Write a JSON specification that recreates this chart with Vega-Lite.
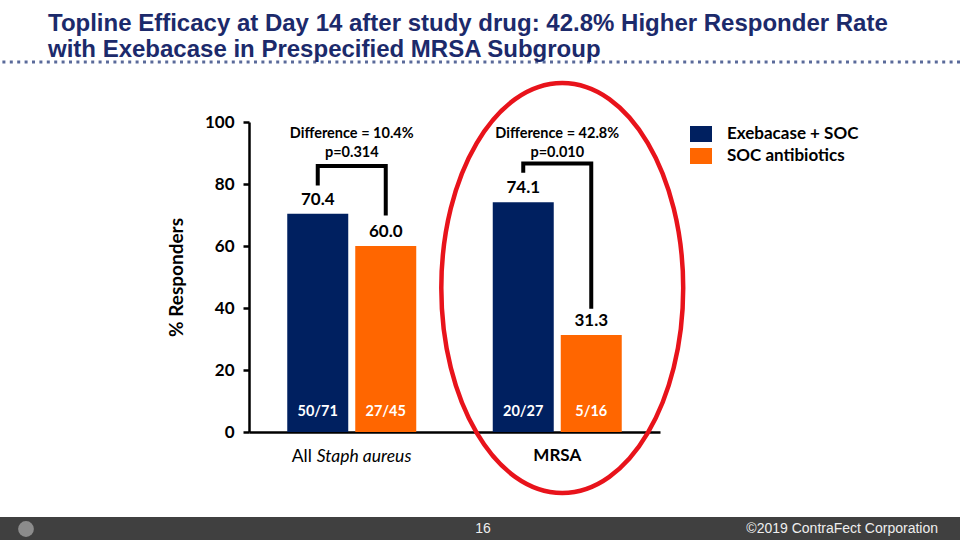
{
  "$schema": "https://vega.github.io/schema/vega-lite/v6.json",
  "width": 960,
  "height": 540,
  "autosize": {"type": "none"},
  "padding": 0,
  "background": "white",
  "config": {
    "view": {"stroke": null},
    "font": "Lato",
    "axisX": {"offset": -108, "domainColor": "black", "domainWidth": 2.5, "ticks": false, "labels": false, "grid": false},
    "axisY": {"offset": -249, "domainColor": "black", "domainWidth": 2.5, "tickColor": "black", "tickWidth": 2.5, "tickSize": 6, "tickCount": 6, "labelFont": "Lato", "labelFontWeight": "bold", "labelFontSize": 17, "labelColor": "black", "labelPadding": 9, "grid": false, "titleFont": "Lato", "titleFontWeight": "bold", "titleFontSize": 19, "titleColor": "black", "titlePadding": 18}
  },
  "title": {
    "text": ["Topline Efficacy at Day 14 after study drug: 42.8% Higher Responder Rate", "with Exebacase in Prespecified MRSA Subgroup"],
    "anchor": "start",
    "frame": "group",
    "orient": "top",
    "baseline": "top",
    "font": "Liberation Sans Narrow, Liberation Sans, Arial",
    "fontSize": 24,
    "fontWeight": "bold",
    "color": "#1c2a6b",
    "lineHeight": 26,
    "dx": 48,
    "offset": -62
  },
  "datasets": {
    "bars": [
      {"group": "All Staph aureus", "series": "Exebacase + SOC", "value": 70.4, "n": "50/71"},
      {"group": "All Staph aureus", "series": "SOC antibiotics", "value": 60.0, "n": "27/45"},
      {"group": "MRSA", "series": "Exebacase + SOC", "value": 74.1, "n": "20/27"},
      {"group": "MRSA", "series": "SOC antibiotics", "value": 31.3, "n": "5/16"}
    ],
    "brackets": [
      {"group": "All Staph aureus", "series": "Exebacase + SOC", "y": 80.2, "ord": 1},
      {"group": "All Staph aureus", "series": "Exebacase + SOC", "y": 85.8, "ord": 2},
      {"group": "All Staph aureus", "series": "SOC antibiotics", "y": 85.8, "ord": 3},
      {"group": "All Staph aureus", "series": "SOC antibiotics", "y": 70.5, "ord": 4},
      {"group": "MRSA", "series": "Exebacase + SOC", "y": 84.3, "ord": 1},
      {"group": "MRSA", "series": "Exebacase + SOC", "y": 86.6, "ord": 2},
      {"group": "MRSA", "series": "SOC antibiotics", "y": 86.6, "ord": 3},
      {"group": "MRSA", "series": "SOC antibiotics", "y": 40.4, "ord": 4}
    ],
    "diffs": [
      {"group": "All Staph aureus", "diff": "Difference = 10.4%", "p": "p=0.314"},
      {"group": "MRSA", "diff": "Difference = 42.8%", "p": "p=0.010"}
    ],
    "cats": [
      {"group": "All Staph aureus", "a": "All", "b": "Staph aureus", "m": ""},
      {"group": "MRSA", "a": "", "b": "", "m": "MRSA"}
    ],
    "highlight": [{"group": "MRSA"}],
    "footer": [{"page": "16", "copy": "©2019 ContraFect Corporation"}]
  },
  "layer": [
    {
      "data": {"name": "footer"},
      "mark": {"type": "rect", "color": "#404040"},
      "encoding": {
        "y": {"datum": -27.4, "type": "quantitative", "title": "% Responders", "scale": {"domain": [0, 100], "range": [432, 122], "nice": false}},
        "y2": {"datum": -36}
      }
    },
    {
      "data": {"name": "footer"},
      "mark": {"type": "point", "shape": "circle", "filled": true, "color": "#8c8c8c", "opacity": 1, "size": 250, "xOffset": -454},
      "encoding": {
        "y": {"datum": -31.3, "type": "quantitative", "title": "% Responders", "scale": {"domain": [0, 100], "range": [432, 122], "nice": false}}
      }
    },
    {
      "data": {"name": "footer"},
      "mark": {"type": "text", "font": "Liberation Sans Narrow, Liberation Sans, Arial", "fontSize": 14, "color": "#eeeeee", "baseline": "middle", "align": "center", "dx": 3},
      "encoding": {
        "y": {"datum": -31.3, "type": "quantitative", "title": "% Responders", "scale": {"domain": [0, 100], "range": [432, 122], "nice": false}},
        "text": {"field": "page"}
      }
    },
    {
      "data": {"name": "footer"},
      "mark": {"type": "text", "font": "Liberation Sans Narrow, Liberation Sans, Arial", "fontSize": 14, "color": "#eeeeee", "baseline": "middle", "align": "right", "dx": 458},
      "encoding": {
        "y": {"datum": -31.3, "type": "quantitative", "title": "% Responders", "scale": {"domain": [0, 100], "range": [432, 122], "nice": false}},
        "text": {"field": "copy"}
      }
    },
    {
      "data": {"name": "footer"},
      "mark": {"type": "rule", "color": "#5a6a9a", "strokeWidth": 3, "strokeDash": [3, 4.4]},
      "encoding": {
        "y": {"datum": 119.35, "type": "quantitative", "title": "% Responders", "scale": {"domain": [0, 100], "range": [432, 122], "nice": false}}
      }
    },
    {
      "data": {"name": "bars"},
      "mark": {"type": "bar"},
      "encoding": {
        "x": {"field": "group", "type": "nominal", "title": null, "sort": null, "scale": {"domain": ["All Staph aureus", "MRSA"], "range": [249, 660], "paddingInner": 0, "paddingOuter": 0}},
        "xOffset": {"field": "series", "type": "nominal", "scale": {"domain": ["Exebacase + SOC", "SOC antibiotics"], "paddingInner": 0.103, "paddingOuter": 0.5625}},
        "y": {"field": "value", "type": "quantitative", "title": "% Responders", "scale": {"domain": [0, 100], "range": [432, 122], "nice": false}},
        "color": {"field": "series", "type": "nominal", "scale": {"domain": ["Exebacase + SOC", "SOC antibiotics"], "range": ["#002060", "#ff6600"]},
          "legend": {"orient": "none", "legendX": 690, "legendY": 123, "title": null, "symbolType": "M-1,-0.727H1V0.727H-1Z", "symbolSize": 484, "symbolStrokeWidth": 0, "symbolOpacity": 1, "labelFont": "Lato", "labelFontSize": 17, "labelFontWeight": "bold", "labelColor": "black", "labelOffset": 15, "rowPadding": 3, "padding": 0}}
      }
    },
    {
      "data": {"name": "bars"},
      "mark": {"type": "text", "fontSize": 17, "fontWeight": "bold", "color": "black", "baseline": "alphabetic", "dy": -9},
      "encoding": {
        "x": {"field": "group", "type": "nominal", "title": null, "sort": null, "scale": {"domain": ["All Staph aureus", "MRSA"], "range": [249, 660], "paddingInner": 0, "paddingOuter": 0}},
        "xOffset": {"field": "series", "type": "nominal", "scale": {"domain": ["Exebacase + SOC", "SOC antibiotics"], "paddingInner": 0.103, "paddingOuter": 0.5625}},
        "y": {"field": "value", "type": "quantitative", "title": "% Responders", "scale": {"domain": [0, 100], "range": [432, 122], "nice": false}},
        "text": {"field": "value", "type": "quantitative", "format": ".1f"}
      }
    },
    {
      "data": {"name": "bars"},
      "mark": {"type": "text", "fontSize": 14.5, "fontWeight": "bold", "color": "white", "baseline": "alphabetic", "dy": -16},
      "encoding": {
        "x": {"field": "group", "type": "nominal", "title": null, "sort": null, "scale": {"domain": ["All Staph aureus", "MRSA"], "range": [249, 660], "paddingInner": 0, "paddingOuter": 0}},
        "xOffset": {"field": "series", "type": "nominal", "scale": {"domain": ["Exebacase + SOC", "SOC antibiotics"], "paddingInner": 0.103, "paddingOuter": 0.5625}},
        "y": {"datum": 0, "type": "quantitative", "title": "% Responders", "scale": {"domain": [0, 100], "range": [432, 122], "nice": false}},
        "text": {"field": "n"}
      }
    },
    {
      "data": {"name": "brackets"},
      "mark": {"type": "line", "color": "black", "strokeWidth": 4, "strokeJoin": "miter", "strokeCap": "square"},
      "encoding": {
        "x": {"field": "group", "type": "nominal", "title": null, "sort": null, "scale": {"domain": ["All Staph aureus", "MRSA"], "range": [249, 660], "paddingInner": 0, "paddingOuter": 0}},
        "xOffset": {"field": "series", "type": "nominal", "scale": {"domain": ["Exebacase + SOC", "SOC antibiotics"], "paddingInner": 0.103, "paddingOuter": 0.5625}},
        "y": {"field": "y", "type": "quantitative", "title": "% Responders", "scale": {"domain": [0, 100], "range": [432, 122], "nice": false}},
        "detail": {"field": "group"},
        "order": {"field": "ord", "type": "quantitative"}
      }
    },
    {
      "data": {"name": "diffs"},
      "mark": {"type": "text", "fontSize": 14.5, "fontWeight": "bold", "color": "black", "baseline": "middle"},
      "encoding": {
        "x": {"field": "group", "type": "nominal", "title": null, "sort": null, "scale": {"domain": ["All Staph aureus", "MRSA"], "range": [249, 660], "paddingInner": 0, "paddingOuter": 0}},
        "y": {"datum": 96.1, "type": "quantitative", "title": "% Responders", "scale": {"domain": [0, 100], "range": [432, 122], "nice": false}},
        "text": {"field": "diff"}
      }
    },
    {
      "data": {"name": "diffs"},
      "mark": {"type": "text", "fontSize": 14.5, "fontWeight": "bold", "color": "black", "baseline": "middle"},
      "encoding": {
        "x": {"field": "group", "type": "nominal", "title": null, "sort": null, "scale": {"domain": ["All Staph aureus", "MRSA"], "range": [249, 660], "paddingInner": 0, "paddingOuter": 0}},
        "y": {"datum": 90.0, "type": "quantitative", "title": "% Responders", "scale": {"domain": [0, 100], "range": [432, 122], "nice": false}},
        "text": {"field": "p"}
      }
    },
    {
      "data": {"name": "cats"},
      "mark": {"type": "text", "fontSize": 17.5, "color": "black", "align": "left", "baseline": "alphabetic", "dx": -60},
      "encoding": {
        "x": {"field": "group", "type": "nominal", "title": null, "sort": null, "scale": {"domain": ["All Staph aureus", "MRSA"], "range": [249, 660], "paddingInner": 0, "paddingOuter": 0}},
        "y": {"datum": -9.7, "type": "quantitative", "title": "% Responders", "scale": {"domain": [0, 100], "range": [432, 122], "nice": false}},
        "text": {"field": "a"}
      }
    },
    {
      "data": {"name": "cats"},
      "mark": {"type": "text", "fontSize": 17.5, "fontStyle": "italic", "color": "black", "align": "left", "baseline": "alphabetic", "dx": -35},
      "encoding": {
        "x": {"field": "group", "type": "nominal", "title": null, "sort": null, "scale": {"domain": ["All Staph aureus", "MRSA"], "range": [249, 660], "paddingInner": 0, "paddingOuter": 0}},
        "y": {"datum": -9.7, "type": "quantitative", "title": "% Responders", "scale": {"domain": [0, 100], "range": [432, 122], "nice": false}},
        "text": {"field": "b"}
      }
    },
    {
      "data": {"name": "cats"},
      "mark": {"type": "text", "fontSize": 17, "fontWeight": "bold", "color": "black", "align": "center", "baseline": "alphabetic"},
      "encoding": {
        "x": {"field": "group", "type": "nominal", "title": null, "sort": null, "scale": {"domain": ["All Staph aureus", "MRSA"], "range": [249, 660], "paddingInner": 0, "paddingOuter": 0}},
        "y": {"datum": -9.4, "type": "quantitative", "title": "% Responders", "scale": {"domain": [0, 100], "range": [432, 122], "nice": false}},
        "text": {"field": "m"}
      }
    },
    {
      "data": {"name": "highlight"},
      "mark": {"type": "point", "shape": "M0,-1A0.59,1 0 1 1 0,1A0.59,1 0 1 1 0,-1Z", "size": 168100, "filled": false, "stroke": "#e8131b", "strokeWidth": 4.5, "opacity": 1, "xOffset": 5},
      "encoding": {
        "x": {"field": "group", "type": "nominal", "title": null, "sort": null, "scale": {"domain": ["All Staph aureus", "MRSA"], "range": [249, 660], "paddingInner": 0, "paddingOuter": 0}},
        "y": {"datum": 46.45, "type": "quantitative", "title": "% Responders", "scale": {"domain": [0, 100], "range": [432, 122], "nice": false}}
      }
    }
  ]
}
